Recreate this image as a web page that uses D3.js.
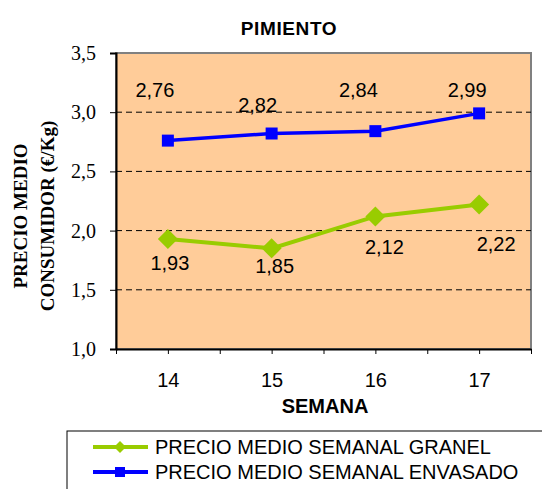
<!DOCTYPE html>
<html>
<head>
<meta charset="utf-8">
<script src="https://cdn.jsdelivr.net/npm/d3@7"></script>
<style>
  body { margin: 0; background: #fff; }
  svg { display: block; }
</style>
</head>
<body>
<svg id="chart"></svg>
<script>
const weeks = [14, 15, 16, 17];
const granel = [1.93, 1.85, 2.12, 2.22];
const envasado = [2.76, 2.82, 2.84, 2.99];
const yTicks = [1.0, 1.5, 2.0, 2.5, 3.0, 3.5];
const seriesNames = ["PRECIO MEDIO SEMANAL GRANEL", "PRECIO MEDIO SEMANAL ENVASADO"];

// hand placed label offsets (px) like in the original sheet
const granelLabelOff = [[2, 31], [3, 25], [9, 38], [17, 46]];
const envasadoLabelOff = [[-13, -44], [-14, -22], [-17, -34], [-12, -16]];

const ctx = {
  width: 542,
  height: 489,
  plot: { left: 116, right: 531, top: 53, bottom: 349 },
  green: "#99cc00",
  blue: "#0000ff",
  bg: "#ffcc99"
};

const svg = d3.select("#chart")
  .attr("width", ctx.width)
  .attr("height", ctx.height);

const p = ctx.plot;
const x = d3.scaleLinear()
  .domain([weeks[0] - 0.5, weeks[weeks.length - 1] + 0.5])
  .range([p.left, p.right]);
const y = d3.scaleLinear()
  .domain([yTicks[0], yTicks[yTicks.length - 1]])
  .range([p.bottom, p.top]);

// plot background + grey frame
svg.append("rect")
  .attr("x", p.left).attr("y", p.top)
  .attr("width", p.right - p.left).attr("height", p.bottom - p.top)
  .attr("fill", ctx.bg)
  .attr("stroke", "#808080")
  .attr("stroke-width", 2);

// dashed gridlines
svg.selectAll("line.grid")
  .data(yTicks.slice(1, -1))
  .enter()
  .append("line")
    .attr("class", "grid")
    .attr("x1", p.left).attr("x2", p.right)
    .attr("y1", d => y(d)).attr("y2", d => y(d))
    .attr("stroke", "#000")
    .attr("stroke-width", 1)
    .attr("stroke-dasharray", "6,4");

// y axis
const yAxis = svg.append("g")
  .attr("transform", `translate(${p.left},0)`)
  .call(d3.axisLeft(y).tickValues(yTicks).tickSize(6).tickPadding(14)
    .tickFormat(d => d3.format(".1f")(d).replace(".", ",")));
yAxis.select(".domain").attr("stroke", "#000").attr("stroke-width", 2);
yAxis.selectAll(".tick line").attr("stroke", "#000");
yAxis.selectAll("text")
  .attr("font-family", "'Liberation Serif', 'Times New Roman', serif")
  .attr("font-size", "20px")
  .attr("fill", "#000");

// x axis, ticks at centres and between categories
const halfSteps = d3.range(weeks[0] - 0.5, weeks[weeks.length - 1] + 0.51, 0.5);
const xAxis = svg.append("g")
  .attr("transform", `translate(0,${p.bottom})`)
  .call(d3.axisBottom(x).tickValues(halfSteps).tickSize(5).tickSizeOuter(0)
    .tickFormat(d => weeks.includes(d) ? d : ""));
xAxis.select(".domain").attr("stroke", "#000").attr("stroke-width", 2);
xAxis.selectAll(".tick line").attr("stroke", "#000");
xAxis.selectAll("text")
  .attr("y", 24)
  .attr("font-family", "'Liberation Sans', Arial, sans-serif")
  .attr("font-size", "20px")
  .attr("fill", "#000");

// titles
svg.append("text")
  .attr("x", 289).attr("y", 35)
  .attr("text-anchor", "middle")
  .attr("font-family", "'Liberation Sans', Arial, sans-serif")
  .attr("font-weight", "bold")
  .attr("font-size", "19px")
  .attr("letter-spacing", "0.6px")
  .text("PIMIENTO");

svg.append("text")
  .attr("x", 325).attr("y", 413)
  .attr("text-anchor", "middle")
  .attr("font-family", "'Liberation Sans', Arial, sans-serif")
  .attr("font-weight", "bold")
  .attr("font-size", "20px")
  .text("SEMANA");

const yTitle = svg.append("text")
  .attr("transform", "translate(20,216) rotate(-90)")
  .attr("text-anchor", "middle")
  .attr("font-family", "'Liberation Serif', 'Times New Roman', serif")
  .attr("font-weight", "bold")
  .attr("font-size", "19px");
yTitle.append("tspan").attr("x", 0).attr("dy", "0.35em").text("PRECIO MEDIO");
yTitle.append("tspan").attr("x", 0).attr("dy", "27px").text("CONSUMIDOR (€/Kg)");

// lines
const line = d3.line()
  .x((d, i) => x(weeks[i]))
  .y(d => y(d));

svg.append("path")
  .datum(granel)
  .attr("d", line)
  .attr("fill", "none")
  .attr("stroke", ctx.green)
  .attr("stroke-width", 4);

svg.append("path")
  .datum(envasado)
  .attr("d", line)
  .attr("fill", "none")
  .attr("stroke", ctx.blue)
  .attr("stroke-width", 3.5);

// markers
svg.selectAll("path.diamond")
  .data(granel)
  .enter()
  .append("path")
    .attr("class", "diamond")
    .attr("transform", (d, i) => `translate(${x(weeks[i])},${y(d)})`)
    .attr("d", "M0,-10L10,0L0,10L-10,0Z")
    .attr("fill", ctx.green);

svg.selectAll("rect.square")
  .data(envasado)
  .enter()
  .append("rect")
    .attr("class", "square")
    .attr("x", (d, i) => x(weeks[i]) - 6)
    .attr("y", d => y(d) - 6)
    .attr("width", 12).attr("height", 12)
    .attr("fill", ctx.blue);

// data labels
const fmt = d => d3.format(".2f")(d).replace(".", ",");
function addLabels(values, offsets) {
  svg.append("g")
    .selectAll("text")
    .data(values)
    .enter()
    .append("text")
      .attr("x", (d, i) => x(weeks[i]) + offsets[i][0])
      .attr("y", (d, i) => y(d) + offsets[i][1])
      .attr("text-anchor", "middle")
      .attr("font-family", "'Liberation Sans', Arial, sans-serif")
      .attr("font-size", "20px")
      .attr("fill", "#000")
      .text(fmt);
}
addLabels(granel, granelLabelOff);
addLabels(envasado, envasadoLabelOff);

// legend
const legend = svg.append("g");
legend.append("rect")
  .attr("x", 67).attr("y", 431)
  .attr("width", 500).attr("height", 100)
  .attr("fill", "#fff")
  .attr("stroke", "#000")
  .attr("stroke-width", 1);

const legendRows = [
  { name: seriesNames[0], color: ctx.green, shape: "diamond", y: 447 },
  { name: seriesNames[1], color: ctx.blue, shape: "square", y: 472 }
];
legendRows.forEach(r => {
  legend.append("line")
    .attr("x1", 93).attr("x2", 148)
    .attr("y1", r.y).attr("y2", r.y)
    .attr("stroke", r.color)
    .attr("stroke-width", 4);
  if (r.shape === "diamond") {
    legend.append("path")
      .attr("transform", `translate(120,${r.y})`)
      .attr("d", "M0,-6L6,0L0,6L-6,0Z")
      .attr("fill", r.color);
  } else {
    legend.append("rect")
      .attr("x", 115).attr("y", r.y - 5)
      .attr("width", 10).attr("height", 10)
      .attr("fill", r.color);
  }
  legend.append("text")
    .attr("x", 155).attr("y", r.y + 7)
    .attr("font-family", "'Liberation Sans', Arial, sans-serif")
    .attr("font-size", "20px")
    .attr("fill", "#000")
    .text(r.name);
});
</script>
</body>
</html>
